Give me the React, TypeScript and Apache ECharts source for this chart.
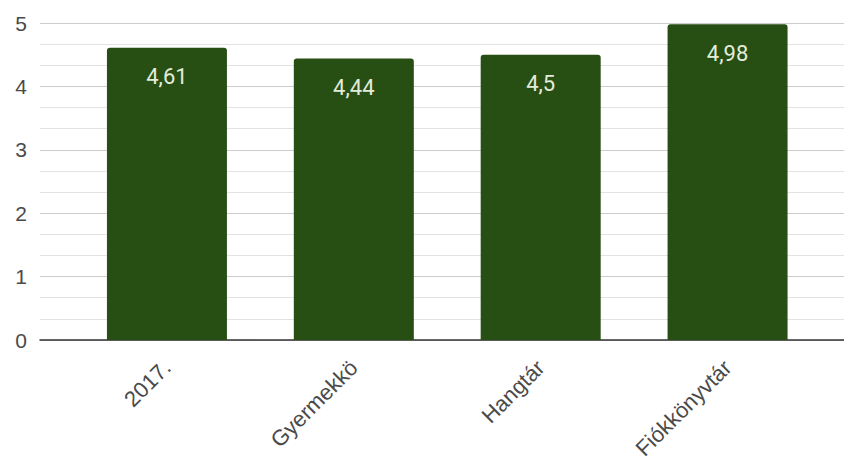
import React, { useEffect, useRef } from "react";
import * as echarts from "echarts";

const categories = ["2017.", "Gyermekkö", "Hangtár", "Fiókkönyvtár"];
const values = [4.61, 4.44, 4.5, 4.98];
const yTicks = [0, 1, 2, 3, 4, 5];

export default function App() {
  const ref = useRef<HTMLDivElement>(null);
  useEffect(() => {
    if (!ref.current) return;
    const chart = echarts.init(ref.current, undefined, { renderer: "svg" });
    const axisFont = "Arial, 'Liberation Sans', sans-serif";
    chart.setOption({
      animation: false,
      backgroundColor: "#ffffff",
      grid: [
        { left: 40, right: 0, top: 23, bottom: 130 },
        { left: 73.5, right: 23, top: 23, bottom: 130 },
      ],
      xAxis: [
        {
          type: "value",
          gridIndex: 0,
          min: 0,
          max: 1,
          axisLine: { show: true, onZero: false, lineStyle: { color: "#333333", width: 1.5 } },
          axisTick: { show: false },
          axisLabel: { show: false },
          splitLine: { show: false },
        },
        {
          type: "category",
          gridIndex: 1,
          data: categories,
          axisLine: { show: false },
          axisTick: { show: false },
          axisLabel: {
            rotate: 45,
            margin: 24,
            fontSize: 22,
            color: "#4a4a4a",
            fontFamily: axisFont,
            interval: 0,
            padding: [0, 0, 0, 0],
          },
        },
      ],
      yAxis: [
        {
          type: "value",
          gridIndex: 0,
          min: yTicks[0],
          max: yTicks[yTicks.length - 1],
          interval: 1,
          axisLine: { show: false },
          axisTick: { show: false },
          axisLabel: {
            margin: 13,
            fontSize: 21,
            color: "#4a4a4a",
            fontFamily: axisFont,
          },
          splitLine: { show: true, lineStyle: { color: "#cccccc", width: 1 } },
          minorTick: { show: false, splitNumber: 3 },
          minorSplitLine: { show: true, lineStyle: { color: "#e2e2e2", width: 1 } },
        },
        {
          type: "value",
          gridIndex: 1,
          min: yTicks[0],
          max: yTicks[yTicks.length - 1],
          interval: 1,
          show: false,
          splitLine: { show: false },
        },
      ],
      series: [
        {
          type: "bar",
          xAxisIndex: 1,
          yAxisIndex: 1,
          data: values,
          barWidth: 120,
          itemStyle: { color: "#274e13", borderRadius: [3, 3, 0, 0] },
          label: {
            show: true,
            position: "insideTop",
            distance: 18,
            fontSize: 22,
            color: "#e3ecdb",
            fontFamily: "Roboto, Arial, sans-serif",
            formatter: (p: any) => String(p.value).replace(".", ","),
          },
        },
      ],
    });
    return () => chart.dispose();
  }, []);
  return <div ref={ref} style={{ width: 844, height: 470, position: "absolute", left: 0, top: 0 }} />;
}
